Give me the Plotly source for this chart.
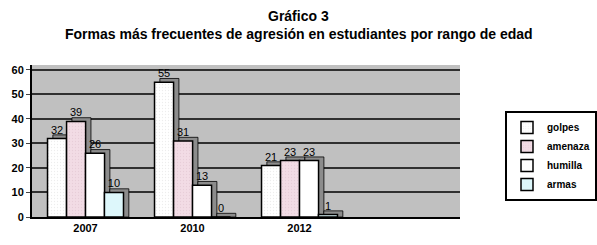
import plotly.graph_objects as go

categories = ["2007", "2010", "2012", ""]
series_names = ["golpes", "amenaza", "humilla", "armas"]
golpes = [32, 55, 21, None]
amenaza = [39, 31, 23, None]
humilla = [26, 13, 23, None]
armas = [10, 0, 1, None]
y_ticks = [0, 10, 20, 30, 40, 50, 60]
title_line1 = "Gráfico 3"
title_line2 = "Formas más frecuentes de agresión en estudiantes por rango de edad"

series = [golpes, amenaza, humilla, armas]
colors = ["#ffffff", "#f2dce5", "#ffffff", "#ddf7fb"]
patterns = [".", ".", "", ""]
pat_fg = ["#dcdcdc", "#dcc0cc", "#ffffff", "#ffffff"]

xpos = list(range(len(categories)))
bw = 0.178
offsets = [-0.355, -0.177, 0.0, 0.177]
depth_x = 0.05
depth_y = 1.5

fig = go.Figure()

# 3D-like side/top faces (drawn behind)
for i, vals in enumerate(series):
    fig.add_trace(go.Bar(
        x=xpos, y=[None if v is None else v + depth_y for v in vals],
        width=bw, offset=offsets[i] + depth_x,
        marker=dict(color="#8c8c8c", line=dict(color="#000000", width=0.8)),
        showlegend=False, hoverinfo="skip",
    ))

for i, vals in enumerate(series):
    fig.add_trace(go.Bar(
        x=xpos, y=vals, name="<b>%s</b>" % series_names[i],
        width=bw, offset=offsets[i],
        marker=dict(color=colors[i], line=dict(color="#000000", width=1.5),
                    pattern=dict(shape=patterns[i], fgcolor=pat_fg[i], bgcolor=colors[i],
                                 size=3, solidity=0.15, fillmode="overlay")),
        text=[None if v is None else str(v) for v in vals],
        textposition="outside", cliponaxis=False,
        textfont=dict(family="Liberation Sans", size=11, color="#000000"),
    ))

W, H = 597, 245
ML, MR, MT, MB = 32, 137, 65, 28

fig.update_layout(
    width=W, height=H,
    barmode="overlay",
    paper_bgcolor="#ffffff",
    plot_bgcolor="#c0c0c0",
    margin=dict(l=ML, r=MR, t=MT, b=MB, autoexpand=False),
    font=dict(family="Liberation Sans", color="#000000"),
    legend=dict(
        x=(505 - ML) / (W - ML - MR), y=(H - MB - 111) / (H - MT - MB),
        xanchor="left", yanchor="top",
        bgcolor="#ffffff", bordercolor="#000000", borderwidth=2,
        font=dict(family="Liberation Sans", size=10, color="#000000"),
        tracegroupgap=0, itemwidth=30,
    ),
    showlegend=True,
    annotations=[
        dict(text="<b>%s</b>" % title_line1, x=(W / 2 - ML) / (W - ML - MR), y=1,
             xref="paper", yref="paper", xanchor="center", yanchor="bottom",
             showarrow=False, font=dict(family="Liberation Sans", size=14, color="#000000"),
             yshift=39),
        dict(text="<b>%s</b>" % title_line2, x=(W / 2 - ML) / (W - ML - MR), y=1,
             xref="paper", yref="paper", xanchor="center", yanchor="bottom",
             showarrow=False, font=dict(family="Liberation Sans", size=14, color="#000000"),
             yshift=21),
    ],
)

fig.update_xaxes(
    tickmode="array", tickvals=xpos, ticktext=["<b>%s</b>" % c for c in categories],
    range=[-0.5, 3.5], showgrid=False, showline=True, linecolor="#000000", linewidth=2,
    ticks="", tickfont=dict(family="Liberation Sans", size=11, color="#000000"),
    zeroline=False, automargin=False,
)
fig.update_yaxes(
    range=[0, 62], tickvals=y_ticks, ticktext=["<b>%d</b>" % t for t in y_ticks],
    showgrid=True, gridcolor="#303030", gridwidth=1.5,
    showline=True, linecolor="#000000", linewidth=2, ticks="outside", ticklen=4,
    tickfont=dict(family="Liberation Sans", size=11, color="#000000"),
    zeroline=False, automargin=False,
)

fig.write_html("out.html", config={"displayModeBar": False},
               post_script="document.body.style.margin='0';document.body.style.padding='0';")
